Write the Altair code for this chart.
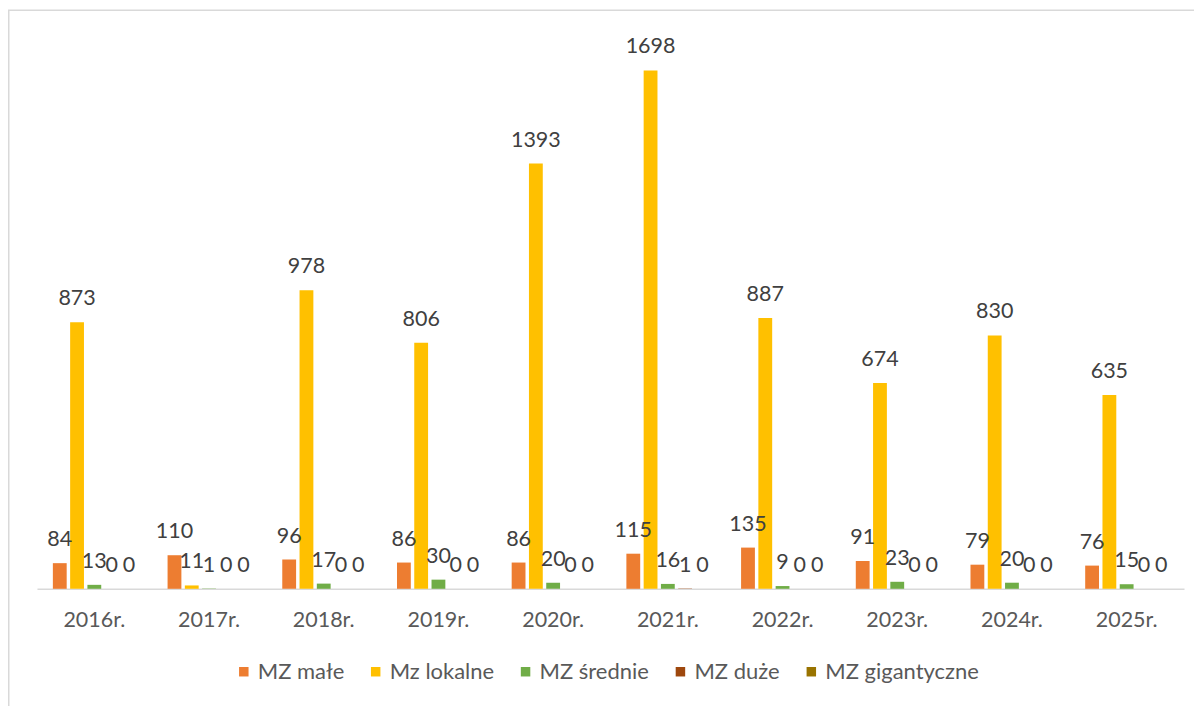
import altair as alt
import pandas as pd

years = ["2016r.", "2017r.", "2018r.", "2019r.", "2020r.", "2021r.", "2022r.", "2023r.", "2024r.", "2025r."]
series = ["MZ małe", "Mz lokalne", "MZ średnie", "MZ duże", "MZ gigantyczne"]
colors = ["#ED7D31", "#FFC000", "#70AD47", "#9E480E", "#997300"]

mz_male = [84, 110, 96, 86, 86, 115, 135, 91, 79, 76]
mz_lokalne = [873, 11, 978, 806, 1393, 1698, 887, 674, 830, 635]
mz_srednie = [13, 1, 17, 30, 20, 16, 9, 23, 20, 15]
mz_duze = [0, 0, 0, 0, 0, 1, 0, 0, 0, 0]
mz_gigantyczne = [0, 0, 0, 0, 0, 0, 0, 0, 0, 0]

all_vals = [mz_male, mz_lokalne, mz_srednie, mz_duze, mz_gigantyczne]
rows = []
for s, vals in zip(series, all_vals):
    for y, v in zip(years, vals):
        rows.append({"rok": y, "seria": s, "wartosc": v})
df = pd.DataFrame(rows)

FONT = "Lato"

x_enc = alt.X("rok:N", sort=years, title=None,
              scale=alt.Scale(paddingInner=0.277, paddingOuter=0.1385),
              axis=alt.Axis(domainColor="#D9D9D9", domainWidth=1.5, ticks=False,
                            labelFontSize=21.5, labelFont=FONT, labelColor="#595959",
                            labelPadding=38, labelBaseline="alphabetic", labelAngle=0,
                            grid=False))
xo_enc = alt.XOffset("seria:N", sort=series,
                     scale=alt.Scale(paddingInner=0.2, paddingOuter=0))
y_enc = alt.Y("wartosc:Q", scale=alt.Scale(domain=[0, 1800], nice=False), axis=None)

bars = alt.Chart(df).mark_bar(strokeWidth=0).encode(
    x=x_enc,
    xOffset=xo_enc,
    y=y_enc,
    color=alt.Color("seria:N", sort=series,
                    scale=alt.Scale(domain=series, range=colors),
                    legend=alt.Legend(title=None, orient="none", direction="horizontal",
                                      legendX=196, legendY=622,
                                      symbolType="square", symbolSize=90,
                                      symbolStrokeWidth=0,
                                      labelFontSize=22, labelFont=FONT,
                                      labelColor="#595959", columnPadding=20,
                                      labelOffset=3, padding=0)),
)

labels = alt.Chart(df).mark_text(
    baseline="alphabetic", dy=-17, fontSize=21.5, font=FONT, color="#404040"
).encode(
    x=alt.X("rok:N", sort=years),
    xOffset=alt.XOffset("seria:N", sort=series),
    y=alt.Y("wartosc:Q"),
    text=alt.Text("wartosc:Q"),
)

frame = alt.Chart(alt.Data(values=[{"a": 1}]))
left_line = frame.mark_rule(color="#D9D9D9", strokeWidth=2).encode(
    x=alt.value(-28.5), y=alt.value(-29), y2=alt.value(700))
top_line = frame.mark_rule(color="#D9D9D9", strokeWidth=1.5).encode(
    x=alt.value(-29), x2=alt.value(1200), y=alt.value(-29))

chart = alt.layer(bars, labels, left_line, top_line).properties(
    width=1148, height=550,
    autosize=alt.AutoSizeParams(type="none"),
    padding={"left": 29, "top": 31, "right": 10, "bottom": 117},
).configure_view(stroke=None)

chart.save("out.html", embed_options={"renderer": "svg", "actions": False})
